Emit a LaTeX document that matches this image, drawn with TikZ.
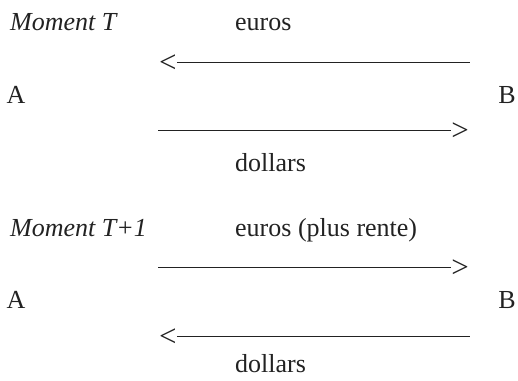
\documentclass[tikz,border=0pt]{standalone}
\usepackage{fontspec}
\setmainfont{Liberation Serif}
\usepackage{xcolor}
\usepackage{tikz}
\usetikzlibrary{positioning}
\definecolor{fxInk}{HTML}{222222}
\tikzset{
  fx diagram/.style={font=\fontsize{26}{30}\selectfont, text=fxInk,
    line cap=butt, line join=round},
  fx label/.style={inner sep=0pt, anchor=base west},
  fx party/.style={inner sep=0pt, anchor=base},
  fx tip/.style={inner sep=0pt, font=\fontsize{31}{34}\selectfont},
  fx line/.style={draw=fxInk, line width=1pt}
}
\begin{document}
\begin{tikzpicture}[fx diagram,x=1pt,y=1pt]
\useasboundingbox (0,0) rectangle (518,-380);
% moment T
\node[fx label] (momT) at (10,-30) {\itshape Moment T};
\node[fx label] (eur1) at (235,-30) {euros};
\node[fx tip,anchor=west] (lt1) at (159,-64) {<};
\coordinate (e1) at (470,-62);
\draw[fx line] (lt1.east |- e1) -- (e1);
\node[fx party] (a1) at (16,-103) {A};
\node[fx party] (b1) at (507,-103) {B};
\coordinate (s2) at (158,-130);
\node[fx tip,anchor=east] (gt2) at (469,-132) {>};
\draw[fx line] (s2) -- (gt2.west |- s2);
\node[fx label] (dol1) at (235,-171) {dollars};
% moment T+1
\node[fx label] (momT1) at (10,-236) {\itshape Moment T+1};
\node[fx label] (eur2) at (235,-236) {euros (plus rente)};
\coordinate (s3) at (158,-267);
\node[fx tip,anchor=east] (gt3) at (469,-269) {>};
\draw[fx line] (s3) -- (gt3.west |- s3);
\node[fx party] (a2) at (16,-308) {A};
\node[fx party] (b2) at (507,-308) {B};
\node[fx tip,anchor=west] (lt4) at (159,-338) {<};
\coordinate (e4) at (470,-336);
\draw[fx line] (lt4.east |- e4) -- (e4);
\node[fx label] (dol2) at (235,-372) {dollars};
\end{tikzpicture}
\end{document}
